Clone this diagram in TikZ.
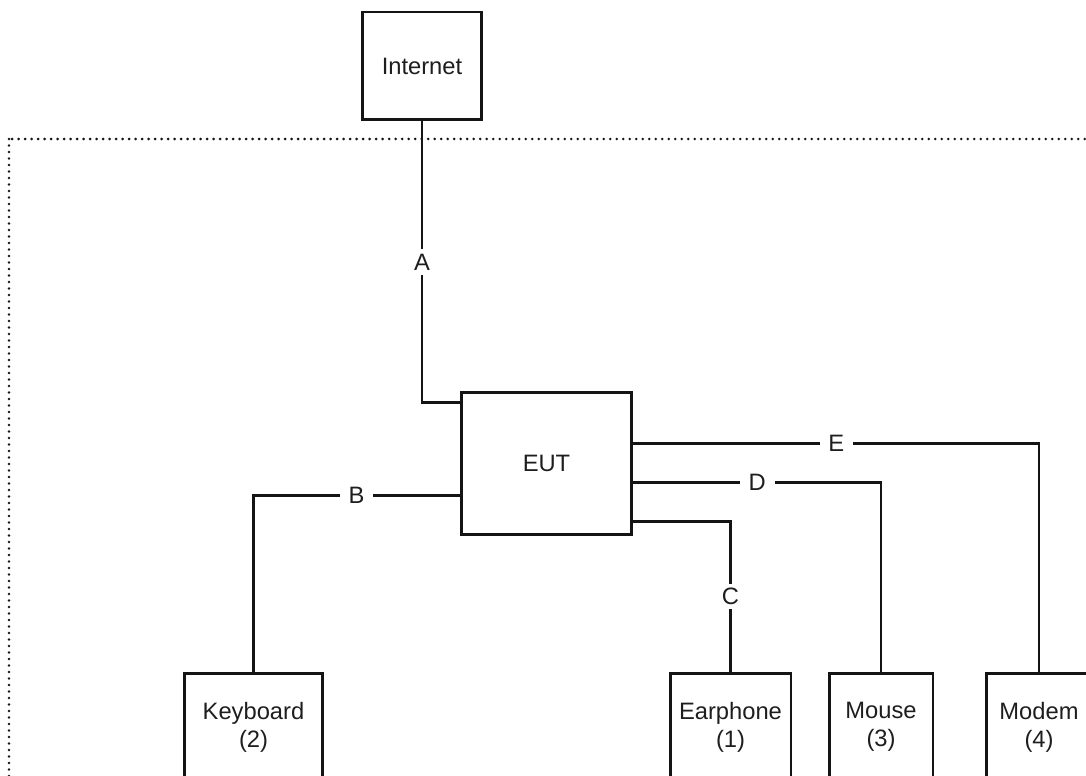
\documentclass[tikz,border=0pt]{standalone}
\usepackage{fontspec}
\setmainfont{Liberation Sans}
\definecolor{LineBlack}{RGB}{20,20,20}
\definecolor{TextBlack}{RGB}{30,30,30}
\usepackage{tikz}
\usetikzlibrary{arrows.meta, positioning, calc}

\begin{document}
\begin{tikzpicture}[x=0.02cm, y=-0.02cm, font=\fontsize{13.5}{16}\selectfont,
	box/.style={draw=LineBlack, line width=1.7pt, fill=white, text=TextBlack, align=center, inner sep=0pt},
	link/.style={draw=LineBlack, line width=1.5pt},
	lbl/.style={fill=white, text=TextBlack, inner xsep=5pt, inner ysep=2.5pt}]
	\useasboundingbox (0,0) rectangle (1086,776);
	\clip (0,0) rectangle (1086,776);
	% dotted frame round the set-up
	\draw[LineBlack, line width=1.6pt, dash pattern=on 0pt off 3.7pt, line cap=round] (9,139) rectangle (1130,830);
	\node[box, minimum width=2.4cm, minimum height=2.16cm] (inet) at (422,66) {Internet};
	\node[box, minimum width=3.42cm, minimum height=2.86cm] (eut) at (546.5,463.5) {EUT};
	\node[box, minimum width=2.78cm, minimum height=2.16cm] (kbd) at (253.5,727) {Keyboard\\(2)};
	\node[box, minimum width=2.42cm, minimum height=2.16cm] (ear) at (730.5,727) {Earphone\\(1)};
	\node[box, minimum width=2.08cm, minimum height=2.16cm] (mouse) at (881,727) {Mouse\\(3)};
	\node[box, minimum width=2.12cm, minimum height=2.16cm] (modem) at (1039,727) {Modem\\(4)};
	% ports on the EUT
	\coordinate (portA) at ($(eut.north west)+(0,12)$);
	\coordinate (portB) at ($(eut.north west)+(0,105)$);
	\coordinate (portE) at ($(eut.north east)+(0,53)$);
	\coordinate (portD) at ($(eut.north east)+(0,92)$);
	\coordinate (portC) at ($(eut.north east)+(0,131)$);
	\draw[link] (inet.south) |- node[lbl, pos=0.25] {A} (portA);
	\draw[link] (portB) -| node[lbl, pos=0.25] {B} (kbd.north);
	\draw[link] (portC) -| node[lbl, pos=0.75] {C} (ear.north);
	\draw[link] (portD) -| node[lbl, pos=0.25] {D} (mouse.north);
	\draw[link] (portE) -| node[lbl, pos=0.25] {E} (modem.north);
\end{tikzpicture}
\end{document}
